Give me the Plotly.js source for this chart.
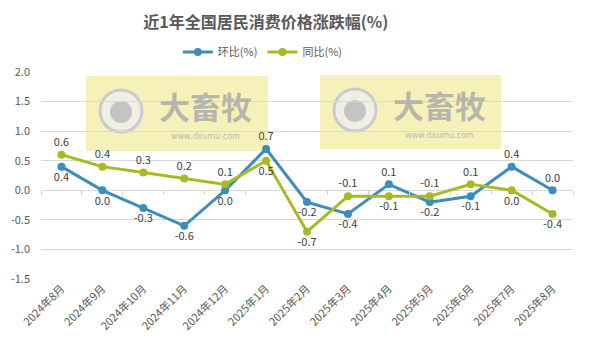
<!DOCTYPE html>
<html><head><meta charset="utf-8">
<script src="https://cdn.plot.ly/plotly-3.0.1.min.js"></script>
<style>html,body{margin:0;padding:0;background:#fff}#c{width:592px;height:349px}</style>
</head><body><div id="c"></div>
<script>
const categories = ['2024年8月','2024年9月','2024年10月','2024年11月','2024年12月','2025年1月','2025年2月','2025年3月','2025年4月','2025年5月','2025年6月','2025年7月','2025年8月'];
const mom = [0.4, 0.0, -0.3, -0.6, 0.0, 0.7, -0.2, -0.4, 0.1, -0.2, -0.1, 0.4, 0.0];
const yoy = [0.6, 0.4, 0.3, 0.2, 0.1, 0.5, -0.7, -0.1, -0.1, -0.1, 0.1, 0.0, -0.4];
const momPos = ['bottom','bottom','bottom','bottom','bottom','top','bottom','bottom','top','bottom','bottom','top','top'];
const yoyPos = ['top','top','top','top','top','bottom','bottom','top','bottom','top','top','bottom','bottom'];
const yTicks = [-1.5,-1.0,-0.5,0.0,0.5,1.0,1.5,2.0];

const font = 'Noto Sans CJK SC, Noto Sans, sans-serif';
const blue = '#3b8dba', green = '#a7b927';
function tr(name, y, pos, color){
  return {x: categories, y: y, name: name, type:'scatter', mode:'lines+markers+text',
    line:{color:color,width:3}, marker:{color:color,size:8},
    text: y.map(v=>v.toFixed(1)), textposition: pos.map(p=>p+' center'),
    textfont:{family:font,size:11,color:'#404040'}, cliponaxis:false};
}
// invisible helper trace so the zero-line tick axis is drawn
const tickHelper = {x: categories, y: categories.map(()=>null), xaxis:'x2', type:'scatter', mode:'lines', showlegend:false, hoverinfo:'skip'};
const shapes = [], annotations = [];
const X = px=>(px-41)/532, Y = py=>(279-py)/207;
[[86,268,76,151],[320,501,75,149]].forEach(b=>{
  shapes.push({type:'rect',xref:'paper',yref:'paper',x0:X(b[0]),x1:X(b[1]),y0:Y(b[3]),y1:Y(b[2]),fillcolor:'rgba(243,236,160,0.75)',line:{width:0},layer:'below'});
  const cx=b[0]+35, cy=b[2]+35;
  shapes.push({type:'circle',xref:'paper',yref:'paper',x0:X(cx-21),x1:X(cx+21),y0:Y(cy+21),y1:Y(cy-21),fillcolor:'rgba(238,238,232,0.95)',line:{color:'#cbcbcb',width:3},layer:'below'});
  shapes.push({type:'circle',xref:'paper',yref:'paper',x0:X(cx-11),x1:X(cx+11),y0:Y(cy+12),y1:Y(cy-10),fillcolor:'#c4c4c4',line:{width:0},layer:'below'});
  annotations.push({xref:'paper',yref:'paper',x:X(b[0]+119),y:Y(b[2]+29),text:'<b>大畜牧</b>',showarrow:false,font:{family:font,size:31,color:'rgba(172,172,172,0.85)'},xanchor:'center',yanchor:'middle'});
  annotations.push({xref:'paper',yref:'paper',x:X(b[0]+119),y:Y(b[2]+60),text:'www.dxumu.com',showarrow:false,font:{family:'DejaVu Sans, sans-serif',size:8,color:'rgba(178,178,178,0.9)'},xanchor:'center',yanchor:'middle'});
});
Plotly.newPlot('c',[tr('环比(%)',mom,momPos,blue), tr('同比(%)',yoy,yoyPos,green), tickHelper],{
  width:592,height:349,margin:{l:41,r:19,t:72,b:70},
  paper_bgcolor:'#fff',plot_bgcolor:'#fff',
  title:{text:'<b>近1年全国居民消费价格涨跌幅(%)</b>',xref:'container',x:0.449,xanchor:'center',y:0.937,yanchor:'middle',font:{family:font,size:16,color:'#595959'}},
  legend:{orientation:'h',x:0.417,xanchor:'center',y:1.097,yanchor:'middle',font:{family:font,size:11,color:'#595959'}},
  xaxis:{type:'category',automargin:false,range:[-0.5,12.5],tickangle:-45,tickfont:{family:font,size:11,color:'#595959'},showgrid:false,showline:false,zeroline:false,ticks:'',fixedrange:true},
  xaxis2:{type:'category',overlaying:'x',anchor:'free',position:0.4286,automargin:false,range:[-0.5,12.5],showticklabels:false,ticks:'outside',tickson:'boundaries',ticklen:4,tickwidth:1,tickcolor:'#d0d0d0',showgrid:false,showline:false,zeroline:false,fixedrange:true},
  yaxis:{range:[-1.5,2.0],automargin:false,tickvals:yTicks,ticktext:yTicks.map(v=>v.toFixed(1)),tickfont:{family:font,size:11,color:'#595959'},ticklabelstandoff:10,gridcolor:'#d9d9d9',gridwidth:1,zeroline:true,zerolinecolor:'#d9d9d9',zerolinewidth:1,showline:false,ticks:'',fixedrange:true},
  shapes:shapes, annotations:annotations, showlegend:true
},{displayModeBar:false,staticPlot:true});
</script></body></html>
